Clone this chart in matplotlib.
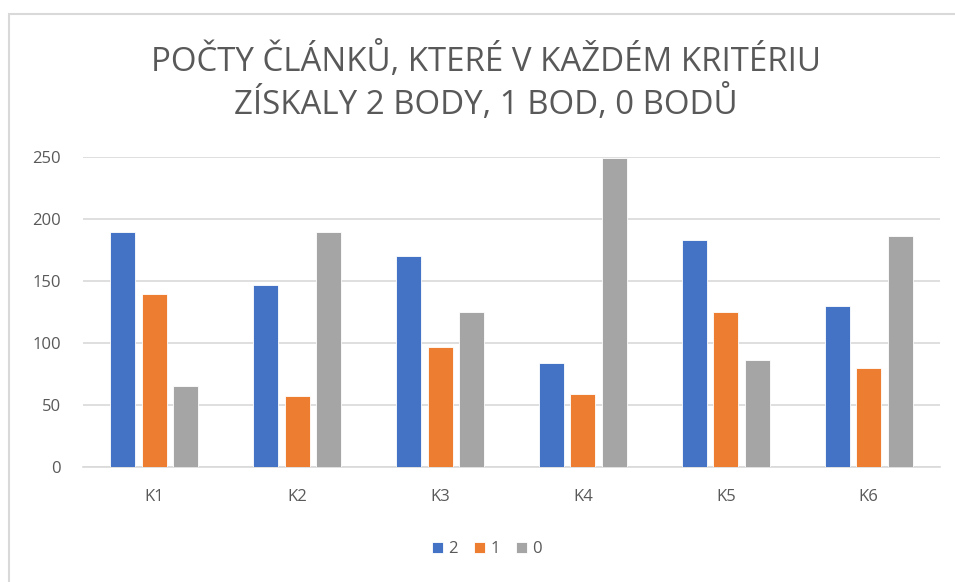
import matplotlib
matplotlib.use("Agg")
import matplotlib.pyplot as plt
import numpy as np
from matplotlib.patches import Rectangle

categories = ["K1", "K2", "K3", "K4", "K5", "K6"]
series_names = ["2", "1", "0"]
vals_2 = [189, 147, 170, 84, 183, 130]
vals_1 = [139, 57, 97, 59, 125, 80]
vals_0 = [65, 189, 125, 249, 86, 186]
colors = ["#4472C4", "#ED7D31", "#A5A5A5"]
yticks = [0, 50, 100, 150, 200, 250]
title = "POČTY ČLÁNKŮ, KTERÉ V KAŽDÉM KRITÉRIU\nZÍSKALY 2 BODY, 1 BOD, 0 BODŮ"

plt.rcParams['font.family'] = ['Open Sans', 'DejaVu Sans']
txt = "#595959"

fig = plt.figure(figsize=(9.55, 5.82), dpi=100)
ax = fig.add_axes([83/955, 1-467/582, (940-83)/955, (467-156.7)/582])

x = np.arange(len(categories))
w = 0.175
step = 0.22
for i, (vals, c, n) in enumerate(zip([vals_2, vals_1, vals_0], colors, series_names)):
    ax.bar(x + (i-1)*step, vals, width=w, color=c, label=n, zorder=3,
           edgecolor="white", linewidth=0.6)

ax.set_xlim(-0.5, len(categories)-0.5)
ax.set_ylim(0, 250)
ax.set_yticks(yticks)
ax.set_xticks(x)
ax.set_xticklabels(categories)
ax.grid(axis="y", color="#d9d9d9", linewidth=1.2, zorder=0)
for s in ["top", "right", "left"]:
    ax.spines[s].set_visible(False)
ax.spines["bottom"].set_color("#d9d9d9")
ax.spines["bottom"].set_linewidth(1.2)
ax.tick_params(axis="both", length=0, labelsize=12, labelcolor=txt)
ax.tick_params(axis="y", pad=16)
ax.tick_params(axis="x", pad=16)

fig.text(486/955, 1-82/582, title, ha="center", va="center", fontsize=23.8,
         color=txt, linespacing=1.2, multialignment="center")

leg = fig.legend(loc="center", bbox_to_anchor=(487/955, 1-549/582), ncol=3,
                 frameon=False, fontsize=12, handlelength=0.65, handleheight=0.65,
                 handletextpad=0.3, columnspacing=1.0)
for t in leg.get_texts():
    t.set_color(txt)

fig.patches.append(Rectangle((8.5/955, -0.1), 1.2, 1.1-13.5/582, transform=fig.transFigure,
                             fill=False, edgecolor="#d9d9d9", linewidth=1.5))

fig.savefig("out.png", dpi=100)
